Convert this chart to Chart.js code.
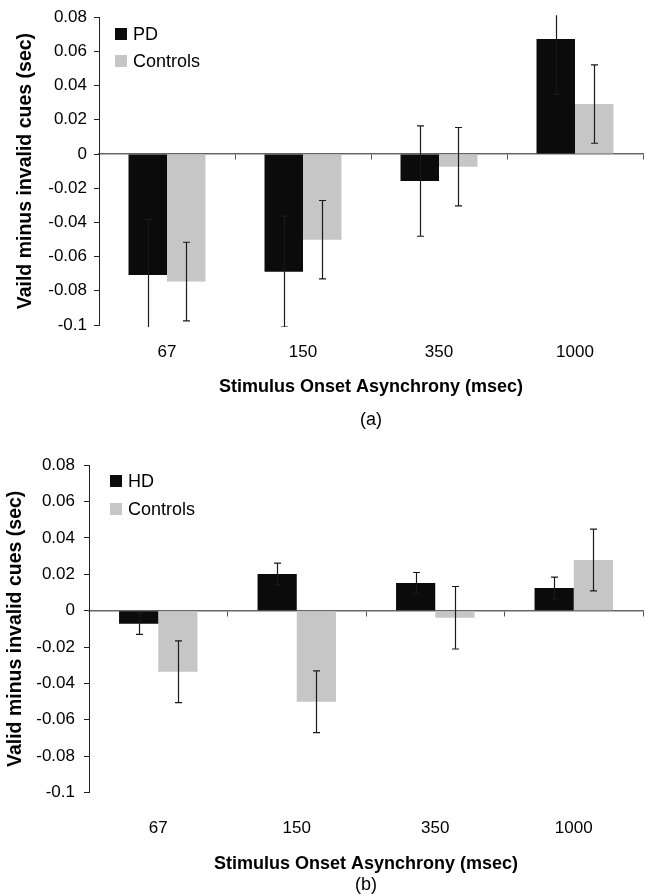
<!DOCTYPE html>
<html>
<head>
<meta charset="utf-8">
<script src="https://cdn.jsdelivr.net/npm/chart.js@4.4.1/dist/chart.umd.min.js"></script>
<style>
  html, body { margin: 0; padding: 0; background: #fff; }
  body { width: 647px; height: 896px; position: relative; overflow: hidden; font-family: "Liberation Sans", Arial, sans-serif; }
  .panel { position: absolute; left: 0; width: 647px; }
  .legend { position: absolute; font-size: 18px; color: #000; }
  .legend .row { position: absolute; white-space: nowrap; height: 22px; line-height: 22px; }
  .legend .box { position: absolute; left: 0; top: 5px; width: 12px; height: 12px; }
  .legend .txt { position: absolute; left: 18px; top: 0; }
</style>
</head>
<body>
<div class="panel" style="top:0;height:440px"><canvas id="chartA" width="647" height="440"></canvas></div>
<div class="panel" style="top:440px;height:456px"><canvas id="chartB" width="647" height="456"></canvas></div>
<div class="legend" id="legendA"></div>
<div class="legend" id="legendB"></div>

<script>
// Dados do gráfico
const categories = ['67', '150', '350', '1000'];

// (a) PD vs Controls
const pdMeans = [-0.0707, -0.0688, -0.0158, 0.0672];
const pdErrors = [0.0325, 0.0325, 0.0323, 0.0323];
const ctrlAMeans = [-0.0746, -0.0501, -0.0074, 0.0292];
const ctrlAErrors = [0.0230, 0.0229, 0.0229, 0.0229];

// (b) HD vs Controls
const hdMeans = [-0.0072, 0.0202, 0.0152, 0.0125];
const hdErrors = [0.0058, 0.0060, 0.0058, 0.0060];
const ctrlBMeans = [-0.0336, -0.0501, -0.0039, 0.0279];
const ctrlBErrors = [0.0170, 0.0170, 0.0172, 0.0170];

const yMin = -0.1;
const yMax = 0.08;
const yStep = 0.02;

const darkColor = '#0b0b0b';
const greyColor = '#c6c6c6';

Chart.defaults.font.family = '"Liberation Sans", Arial, sans-serif';
Chart.defaults.color = '#000';
Chart.defaults.animation = false;

// Barras de erro desenhadas a partir dos arrays de erro
const errorBarsPlugin = {
    id: 'errorBars',
    afterDatasetsDraw(chart) {
        const ctx = chart.ctx;
        const area = chart.chartArea;
        const yScale = chart.scales.y;
        ctx.save();
        ctx.beginPath();
        ctx.rect(area.left, area.top - 2, area.right - area.left, area.bottom - area.top + 4);
        ctx.clip();
        ctx.strokeStyle = '#1a1a1a';
        ctx.lineWidth = 1.2;
        chart.data.datasets.forEach((ds, i) => {
            const meta = chart.getDatasetMeta(i);
            meta.data.forEach((bar, j) => {
                const v = ds.data[j];
                const e = ds.errors[j];
                const x = Math.round(bar.x) + 0.5;
                const yTop = yScale.getPixelForValue(v + e);
                const yBot = yScale.getPixelForValue(v - e);
                ctx.beginPath();
                ctx.moveTo(x, yTop);
                ctx.lineTo(x, yBot);
                ctx.moveTo(x - 3.5, yTop);
                ctx.lineTo(x + 3.5, yTop);
                ctx.moveTo(x - 3.5, yBot);
                ctx.lineTo(x + 3.5, yBot);
                ctx.stroke();
            });
        });
        ctx.restore();
    }
};

function formatTick(value) {
    return String(Math.round(value * 100) / 100);
}

function buildChart(canvasId, cfg) {
    const ctx = document.getElementById(canvasId);
    return new Chart(ctx, {
        type: 'bar',
        data: {
            labels: categories,
            datasets: [
                {
                    label: cfg.groupLabel,
                    data: cfg.groupMeans,
                    errors: cfg.groupErrors,
                    backgroundColor: darkColor,
                    borderWidth: 0,
                    xAxisID: 'x',
                    categoryPercentage: 0.566,
                    barPercentage: 1.0
                },
                {
                    label: 'Controls',
                    data: cfg.ctrlMeans,
                    errors: cfg.ctrlErrors,
                    backgroundColor: greyColor,
                    borderWidth: 0,
                    xAxisID: 'x',
                    categoryPercentage: 0.566,
                    barPercentage: 1.0
                }
            ]
        },
        options: {
            responsive: false,
            layout: { padding: { top: cfg.padTop, right: 4, left: 0, bottom: 0 } },
            plugins: {
                legend: { display: false },
                tooltip: { enabled: false },
                title: {
                    display: true,
                    text: cfg.caption,
                    position: 'bottom',
                    fullSize: false,
                    color: '#000',
                    font: { size: 18, weight: 'normal' },
                    padding: cfg.captionPadding
                }
            },
            scales: {
                x: {
                    type: 'category',
                    position: 'bottom',
                    offset: true,
                    grid: { display: false, drawTicks: false, offset: true },
                    border: { display: false },
                    ticks: { font: { size: 17 }, padding: cfg.xTickPadding, color: '#000' },
                    title: {
                        display: true,
                        text: 'Stimulus Onset Asynchrony (msec)',
                        font: { size: 18, weight: 'bold' },
                        color: '#000',
                        padding: { top: 0, bottom: cfg.xTitlePadBottom }
                    },
                    afterFit(scale) { scale.height = cfg.xAxisHeight; }
                },
                x2: {
                    type: 'category',
                    axis: 'x',
                    position: { y: 0 },
                    offset: true,
                    grid: { offset: true, drawOnChartArea: false, drawTicks: true, tickLength: 5, color: '#555' },
                    border: { display: true, color: '#666', width: 1.5 },
                    ticks: { display: false }
                },
                y: {
                    position: 'left',
                    min: yMin,
                    max: yMax,
                    grid: { drawOnChartArea: false, drawTicks: true, tickLength: 5, color: '#222' },
                    border: { display: true, color: '#222', width: 1 },
                    ticks: {
                        stepSize: yStep,
                        font: { size: 17 },
                        padding: cfg.yTickPadding,
                        color: '#000',
                        callback: formatTick
                    },
                    title: {
                        display: true,
                        text: cfg.yTitle,
                        font: { size: 19.5, weight: 'bold' },
                        color: '#000',
                        padding: { top: cfg.yTitlePadTop, bottom: 0 }
                    },
                    afterFit(scale) { scale.width = cfg.yAxisWidth; }
                }
            }
        },
        plugins: [errorBarsPlugin]
    });
}

// Legenda em HTML, gerada a partir dos datasets
function buildLegend(chart, elId, panelTop, offX, firstCenterY, rowGap) {
    const el = document.getElementById(elId);
    el.style.left = (chart.chartArea.left + offX) + 'px';
    el.style.top = (panelTop + chart.chartArea.top) + 'px';
    el.innerHTML = chart.data.datasets.map((ds, i) => `
        <div class="row" style="top:${firstCenterY + i * rowGap - 11}px">
            <span class="box" style="background:${ds.backgroundColor}"></span>
            <span class="txt">${ds.label}</span>
        </div>
    `).join('');
}

const chartA = buildChart('chartA', {
    groupLabel: 'PD',
    groupMeans: pdMeans,
    groupErrors: pdErrors,
    ctrlMeans: ctrlAMeans,
    ctrlErrors: ctrlAErrors,
    caption: '(a)',
    captionPadding: { top: 4, bottom: 9.4 },
    padTop: 17,
    xAxisHeight: 80,
    xTickPadding: 17,
    xTitlePadBottom: 7,
    yAxisWidth: 99,
    yTickPadding: 7,
    yTitle: 'Vaild minus invalid cues (sec)',
    yTitlePadTop: 14
});

const chartB = buildChart('chartB', {
    groupLabel: 'HD',
    groupMeans: hdMeans,
    groupErrors: hdErrors,
    ctrlMeans: ctrlBMeans,
    ctrlErrors: ctrlBErrors,
    caption: '(b)',
    captionPadding: { top: 0, bottom: 0 },
    padTop: 25.3,
    xAxisHeight: 82,
    xTickPadding: 26,
    xTitlePadBottom: 0,
    yAxisWidth: 89,
    yTickPadding: 9,
    yTitle: 'Valid minus invalid cues (sec)',
    yTitlePadTop: 4
});

buildLegend(chartA, 'legendA', 0, 16, 17, 27);
buildLegend(chartB, 'legendB', 440, 21, 16, 28);
</script>
</body>
</html>
